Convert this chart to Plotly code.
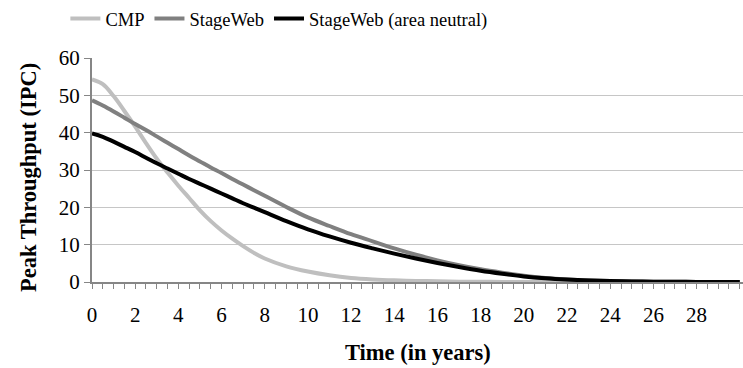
import plotly.graph_objects as go

years = [0, 0.5, 1, 1.5, 2, 2.5, 3, 3.5, 4, 4.5, 5, 5.5, 6, 6.5, 7, 7.5, 8,
         9, 10, 11, 12, 13, 14, 15, 16, 17, 18, 19, 20, 21, 22, 23, 24, 25, 26,
         27, 28, 29, 30]
cmp_vals = [54.3, 53.0, 49.8, 45.8, 41.6, 37.2, 33.0, 29.3, 25.8, 22.5, 19.2, 16.3,
            13.8, 11.6, 9.6, 7.8, 6.3, 4.2, 2.8, 1.8, 1.1, 0.7, 0.45, 0.3, 0.2, 0.1,
            0.05, 0.03, 0.02, 0.01, 0, 0, 0, 0, 0, 0, 0, 0, 0]
stageweb_vals = [48.7, 47.3, 45.7, 44.0, 42.3, 40.7, 39.0, 37.3, 35.6, 33.9, 32.3, 30.7,
                 29.2, 27.6, 26.1, 24.6, 23.1, 20.1, 17.3, 15.0, 12.8, 10.9, 9.0, 7.3,
                 5.8, 4.5, 3.4, 2.5, 1.7, 1.1, 0.7, 0.45, 0.3, 0.2, 0.1, 0.05, 0.03,
                 0.02, 0.01]
neutral_vals = [39.8, 38.9, 37.6, 36.2, 34.8, 33.3, 31.8, 30.4, 29.0, 27.6, 26.3, 25.0,
                23.7, 22.4, 21.1, 19.9, 18.7, 16.3, 14.1, 12.2, 10.5, 9.0, 7.6, 6.3,
                5.1, 4.0, 3.0, 2.2, 1.5, 1.0, 0.65, 0.4, 0.25, 0.15, 0.1, 0.05, 0.03,
                0.02, 0.01]
x_tick_vals = list(range(0, 30, 2))
y_tick_vals = [0, 10, 20, 30, 40, 50, 60]

series = [
    ("CMP", cmp_vals, "#BFBFBF"),
    ("StageWeb", stageweb_vals, "#808080"),
    ("StageWeb (area neutral)", neutral_vals, "#000000"),
]

font_family = "Liberation Serif, Times New Roman, serif"
axis_color = "#868686"

fig = go.Figure()
for name, vals, color in series:
    fig.add_trace(go.Scatter(x=years, y=vals, mode="lines", name=name,
                             line=dict(color=color, width=4, shape="spline", smoothing=1.0)))

fig.update_layout(
    template="none",
    width=743, height=368,
    margin=dict(l=92, r=0, t=58, b=86),
    paper_bgcolor="white", plot_bgcolor="white",
    font=dict(family=font_family, size=21, color="black"),
    showlegend=True,
    legend=dict(orientation="h", xref="container", yref="container",
                x=0.088, y=1.0, xanchor="left", yanchor="top",
                font=dict(size=18.5, family=font_family, color="black"),
                bgcolor="rgba(0,0,0,0)", tracegroupgap=0, itemwidth=30),
    xaxis=dict(range=[0, 30.15], tickvals=x_tick_vals, ticks="outside", ticklen=5,
               tickcolor=axis_color, tickwidth=1, showgrid=False, zeroline=False,
               showline=True, linecolor=axis_color, linewidth=2,
               ticklabelstandoff=8,
               tickfont=dict(family=font_family, size=21, color="black"),
               minor=dict(dtick=0.5, tick0=0, ticks="outside", ticklen=5,
                          tickcolor=axis_color, tickwidth=1, showgrid=False)),
    yaxis=dict(range=[0, 60], tickvals=y_tick_vals, ticks="outside", ticklen=6,
               tickcolor=axis_color, tickwidth=1, showgrid=True, gridcolor="#C6C6C6",
               gridwidth=1, zeroline=False, showline=True, linecolor=axis_color,
               linewidth=2, ticklabelstandoff=0,
               tickfont=dict(family=font_family, size=21, color="black")),
    annotations=[
        dict(text="<b>Peak Throughput (IPC)</b>", textangle=-90, xref="paper", yref="paper",
             x=-0.0973, y=0.467, xanchor="center", yanchor="middle", showarrow=False,
             font=dict(size=22.5, family=font_family, color="black")),
        dict(text="<b>Time (in years)</b>", xref="paper", yref="paper",
             x=0.5, y=-0.314, xanchor="center", yanchor="middle", showarrow=False,
             font=dict(size=22.5, family=font_family, color="black")),
    ],
)

fig.write_html("out.html")
